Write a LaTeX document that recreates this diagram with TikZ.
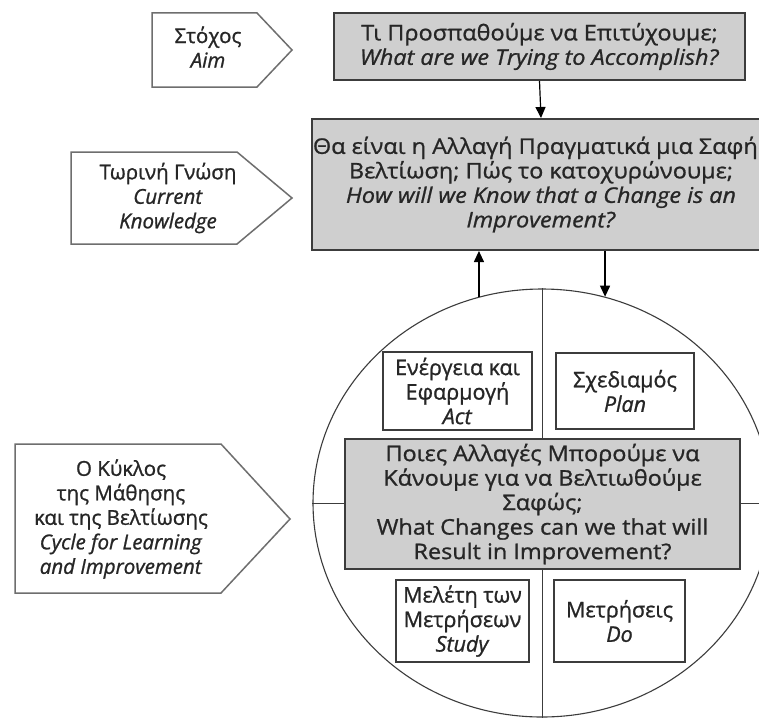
\documentclass[tikz,border=0pt]{standalone}
\usepackage{fontspec}
\setmainfont{Open Sans}[FakeBold=1]
\newfontfamily\wideface{Open Sans}[FakeBold=1,FakeStretch=1.09]
\usetikzlibrary{arrows.meta,shapes.geometric}
\definecolor{boxgray}{HTML}{CFCFCF}
\definecolor{edge}{HTML}{3C3C3C}
\definecolor{tagedge}{HTML}{6E6E6E}
\definecolor{ink}{HTML}{262626}
\begin{document}
\begin{tikzpicture}[x=1pt,y=-1pt,
  txt/.style={font=\fontsize{21.5}{24.5}\selectfont, text=ink, align=center, inner sep=0pt},
  widetxt/.style={font=\wideface\fontsize{21.5}{24.5}\selectfont, text=ink, align=center, inner sep=0pt},
  tagtxt/.style={font=\fontsize{20.5}{24.5}\selectfont, text=ink, align=center, inner sep=0pt},
  qbox/.style={widetxt, draw=edge, line width=2pt, fill=boxgray},
  pbox/.style={txt, draw=edge, line width=1.8pt, fill=white},
  tag/.style={draw=tagedge, line width=1.5pt, fill=white, line join=miter},
  arr/.style={draw=black, line width=1.2pt, -{Triangle[length=11pt,width=10pt]}},
  divider/.style={draw=edge, line width=1pt}]
\useasboundingbox (0,0) rectangle (759,717);
\clip (0,0) rectangle (759,717);
\fill[white] (0,0) rectangle (759,717);

% tags (pentagons)
\draw[tag] (152,13) -- (257,13) -- (292,50) -- (257,87) -- (152,87) -- cycle;
\node[tagtxt] (aim) at (208,47) {Στόχος\\\textit{Aim}};
\draw[tag] (71,152) -- (237,152) -- (292,198) -- (237,244) -- (71,244) -- cycle;
\node[tagtxt] (know) at (168,198) {Τωρινή Γνώση\\\textit{Current}\\\textit{Knowledge}};
\draw[tag] (15,444) -- (221,444) -- (290,519) -- (221,593) -- (15,593) -- cycle;
\node[tagtxt] (cycle) at (121,519) {Ο Κύκλος\\της Μάθησης\\και της Βελτίωσης\\\textit{Cycle for Learning}\\\textit{and Improvement}};

% question boxes
\node[qbox, minimum width=411pt, minimum height=67pt] (q1) at (539.5,46.5)
  {Τι Προσπαθούμε να Επιτύχουμε;\\\textit{What are we Trying to Accomplish?}};
\node[qbox, minimum width=458pt, minimum height=131pt] (q2) at (541,184.5)
  {Θα είναι η Αλλαγή Πραγματικά μια Σαφής\\Βελτίωση; Πώς το κατοχυρώνουμε;\\\textit{How will we Know that a Change is an}\\\textit{Improvement?}};

% cycle ellipse
\node[ellipse, draw=edge, line width=1.1pt, minimum width=458pt, minimum height=428pt, inner sep=0pt] (pdsa) at (542,503) {};

% central question
\node[qbox, minimum width=395pt, minimum height=130pt] (q3) at (542.5,504)
  {Ποιες Αλλαγές Μπορούμε να\\Κάνουμε για να Βελτιωθούμε\\Σαφώς;\\What Changes can we that will\\Result in Improvement?};

% dividers
\draw[divider] (pdsa.north) -- (pdsa.north |- q3.north);
\draw[divider] (pdsa.south |- q3.south) -- (pdsa.south);
\draw[divider] (pdsa.west) -- (pdsa.west -| q3.west);
\draw[divider] (pdsa.east -| q3.east) -- (pdsa.east);

% PDSA boxes
\node[pbox, minimum width=149pt, minimum height=78pt] (act) at (457.5,391) {Ενέργεια και\\Εφαρμογή\\\textit{Act}};
\node[pbox, minimum width=138pt, minimum height=76pt] (plan) at (625,391) {Σχεδιαμός\\\textit{Plan}};
\node[pbox, minimum width=133pt, minimum height=82pt] (study) at (462.5,621) {Μελέτη των\\Μετρήσεων\\\textit{Study}};
\node[pbox, minimum width=131pt, minimum height=82pt] (do) at (619.5,621) {Μετρήσεις\\\textit{Do}};

% arrows
\draw[arr] (q1.south) -- (q2.north);
\draw[arr] (pdsa.107.3) -- (pdsa.107.3 |- q2.south);
\draw[arr] (pdsa.73.5 |- q2.south) -- (pdsa.73.5);
\end{tikzpicture}
\end{document}
